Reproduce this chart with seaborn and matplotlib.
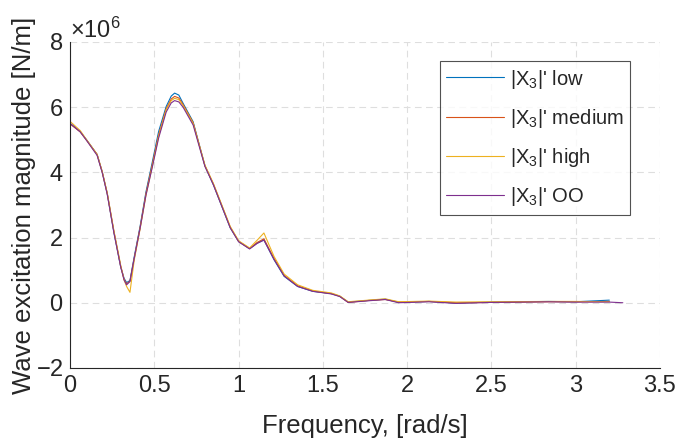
import numpy as np
import pandas as pd
import seaborn as sns
import matplotlib.pyplot as plt

# frequency grid [rad/s] and wave excitation magnitude [x1e6 N/m]
freq = [0.00, 0.06, 0.10, 0.16, 0.19, 0.22, 0.26, 0.30, 0.32, 0.335, 0.355, 0.38,
        0.415, 0.45, 0.485, 0.525, 0.57, 0.60, 0.62, 0.645, 0.67, 0.73, 0.80, 0.85,
        0.95, 1.00, 1.065, 1.11, 1.15, 1.21, 1.27, 1.35, 1.44, 1.55, 1.60, 1.65,
        1.77, 1.87, 1.95, 2.13, 2.29, 2.50, 2.84, 3.00, 3.20]
freq_oo = freq + [3.28]

x3_low = [5.50, 5.25, 4.98, 4.55, 4.02, 3.35, 2.15, 1.10, 0.75, 0.62, 0.68, 1.40,
          2.34, 3.40, 4.25, 5.25, 6.02, 6.34, 6.43, 6.37, 6.12, 5.55, 4.20, 3.62,
          2.30, 1.88, 1.66, 1.83, 1.93, 1.32, 0.81, 0.50, 0.35, 0.28, 0.20, 0.02,
          0.07, 0.11, 0.01, 0.04, -0.01, 0.02, 0.04, 0.03, 0.08]
x3_medium = [5.48, 5.24, 4.97, 4.55, 4.02, 3.36, 2.18, 1.12, 0.72, 0.58, 0.66, 1.36,
             2.30, 3.35, 4.18, 5.15, 5.95, 6.25, 6.33, 6.28, 6.08, 5.52, 4.20, 3.64,
             2.32, 1.88, 1.66, 1.85, 1.96, 1.36, 0.84, 0.52, 0.36, 0.28, 0.20, 0.01,
             0.07, 0.10, 0.02, 0.04, 0.00, 0.01, 0.03, 0.03, 0.04]
x3_high = [5.56, 5.28, 4.98, 4.55, 4.03, 3.37, 2.20, 1.15, 0.70, 0.50, 0.32, 1.30,
           2.26, 3.30, 4.12, 5.10, 5.92, 6.20, 6.27, 6.23, 6.05, 5.50, 4.22, 3.66,
           2.34, 1.90, 1.68, 1.92, 2.14, 1.42, 0.88, 0.55, 0.38, 0.30, 0.21, 0.03,
           0.08, 0.12, 0.03, 0.05, 0.02, 0.03, 0.04, 0.04, 0.03]
x3_oo = [5.50, 5.24, 4.96, 4.52, 4.00, 3.33, 2.14, 1.10, 0.70, 0.55, 0.65, 1.35,
         2.28, 3.30, 4.10, 5.05, 5.85, 6.13, 6.20, 6.16, 6.00, 5.45, 4.18, 3.62,
         2.30, 1.87, 1.65, 1.82, 1.92, 1.33, 0.82, 0.50, 0.35, 0.27, 0.19, 0.01,
         0.06, 0.10, 0.00, 0.03, -0.02, 0.01, 0.03, 0.02, 0.02, 0.00]

labels = ["|X$_3$|' low", "|X$_3$|' medium", "|X$_3$|' high", "|X$_3$|' OO"]
colors = ['#0072BD', '#D95319', '#EDB120', '#7E2F8E']

frames = []
for lab, f, v in zip(labels, [freq, freq, freq, freq_oo], [x3_low, x3_medium, x3_high, x3_oo]):
    frames.append(pd.DataFrame({'freq': f, 'mag': np.array(v) * 1e6, 'series': lab}))
df = pd.concat(frames, ignore_index=True)

sns.set_style('white')
plt.rcParams['font.family'] = ['Liberation Sans', 'DejaVu Sans']
plt.rcParams['mathtext.fontset'] = 'custom'
plt.rcParams['mathtext.rm'] = 'Liberation Sans'
plt.rcParams['mathtext.it'] = 'Liberation Sans'

text_col = '#262626'
fig = plt.figure(figsize=(6.81, 4.46), dpi=100)
ax = fig.add_axes([0.103, 0.175, 0.866, 0.731])

sns.lineplot(data=df, x='freq', y='mag', hue='series', palette=colors, estimator=None,
             sort=False, linewidth=0.8, ax=ax)

ax.set_xlim(0, 3.5)
ax.set_ylim(-2e6, 8e6)
ax.set_xticks(np.arange(0, 3.51, 0.5))
ax.set_xticklabels(['0', '0.5', '1', '1.5', '2', '2.5', '3', '3.5'])
ax.set_yticks(np.arange(-2e6, 8.1e6, 2e6))
ax.ticklabel_format(axis='y', style='sci', scilimits=(6, 6), useMathText=True)
ax.yaxis.get_offset_text().set_fontsize(17)
ax.yaxis.get_offset_text().set_color(text_col)

ax.grid(True, linestyle=(0, (6, 4)), color='#dedede', linewidth=0.8)
for side in ['top', 'right']:
    ax.spines[side].set_visible(False)
for side in ['left', 'bottom']:
    ax.spines[side].set_color(text_col)
    ax.spines[side].set_linewidth(0.8)
ax.tick_params(direction='in', length=4, labelsize=17, colors=text_col, pad=5)

ax.set_xlabel('Frequency, [rad/s]', fontsize=18.5, color=text_col, labelpad=12)
ax.set_ylabel('Wave excitation magnitude [N/m]', fontsize=18.5, color=text_col, labelpad=0)

leg = ax.legend(loc='upper right', bbox_to_anchor=(0.95, 0.94), fontsize=14.5,
                handlelength=2.9, handletextpad=0.3, labelspacing=0.81, frameon=True,
                fancybox=False, borderpad=0.3, borderaxespad=0)
leg.get_frame().set_edgecolor('#262626')
leg.get_frame().set_linewidth(0.8)
for t in leg.get_texts():
    t.set_color(text_col)

fig.savefig('out.png', dpi=100)
